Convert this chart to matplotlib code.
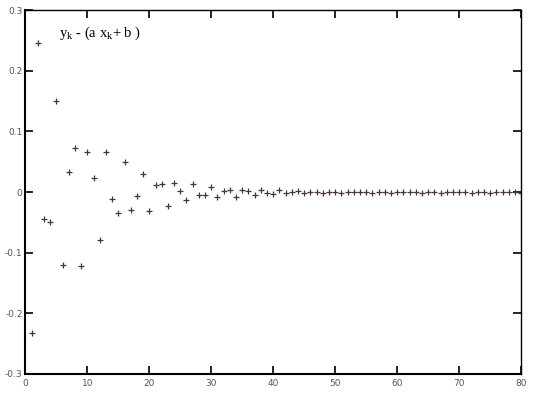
import matplotlib
matplotlib.use('Agg')
import matplotlib.pyplot as plt
import numpy as np

# residuals y_k - (a x_k + b)
k = np.arange(1, 81)
resid_head = [-0.233, 0.246, -0.045, -0.050, 0.151, -0.121, 0.033, 0.073, -0.123, 0.066,
              0.023, -0.079, 0.066, -0.012, -0.035, 0.049, -0.029, -0.006, 0.030, -0.031,
              0.011, 0.013, -0.023, 0.015, 0.001, -0.013, 0.014, -0.005, -0.005, 0.009,
              -0.008, 0.001, 0.004, -0.008, 0.003, 0.002, -0.005, 0.003, -0.002, -0.003,
              0.003, -0.002, 0.000, 0.002, -0.002]
resid_tail = [0.0, 0.0, -0.001, 0.0, 0.0, -0.001, 0.0, 0.0] * 5
resid = (resid_head + resid_tail)[:80]

xticks = [0, 10, 20, 30, 40, 50, 60, 70, 80]
yticks = [-0.3, -0.2, -0.1, 0, 0.1, 0.2, 0.3]
ylabels = ['-0.3', '-0.2', '-0.1', '0', '0.1', '0.2', '0.3']

fig = plt.figure(figsize=(5.4, 4.0), dpi=100)
ax = fig.add_axes([0.047, 0.066, 0.918, 0.908])

ax.plot(k, resid, linestyle='none', marker='+', markersize=5,
        markeredgewidth=0.9, color='#4a3434')

ax.set_xlim(0, 80)
ax.set_ylim(-0.3, 0.3)
ax.set_xticks(xticks)
ax.set_yticks(yticks)
ax.set_yticklabels(ylabels)
ax.tick_params(direction='in', length=6, width=1.2, top=True, right=True,
               labelsize=6.5, labelcolor='#555555', pad=2)
ax.tick_params(axis='x', pad=4)

for side in ['left', 'bottom']:
    ax.spines[side].set_linewidth(1.5)
for side in ['top', 'right']:
    ax.spines[side].set_linewidth(1.0)

ax.text(0.068, 0.96, r'$\mathregular{y_k}$ - (a $\mathregular{x_k}$+ b )', transform=ax.transAxes,
        fontsize=10.5, family='Liberation Serif', va='top', ha='left')

fig.savefig('out.png', dpi=100)
